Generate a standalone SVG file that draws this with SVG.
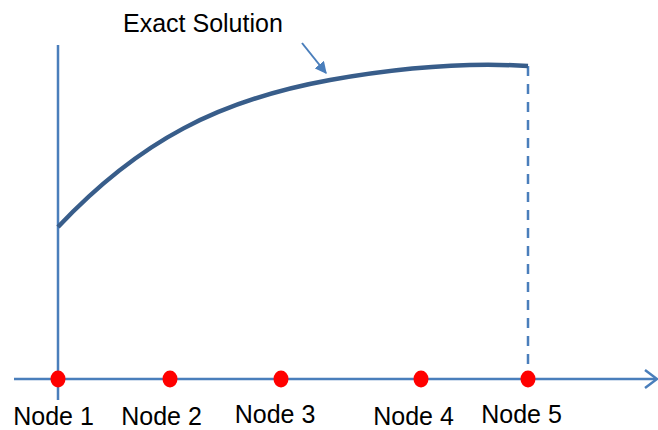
<svg xmlns="http://www.w3.org/2000/svg" width="658" height="430" viewBox="0 0 658 430">
<style>
.axis{stroke:#4a7ebb;stroke-width:2.5;fill:none}
.lbl{font-family:"Liberation Sans",Arial,sans-serif;font-size:25px;fill:#000}
.dot{fill:#ff0000}
</style>
<defs>
<marker id="ah" viewBox="0 0 10 10" refX="9" refY="5" markerWidth="6" markerHeight="6" orient="auto" markerUnits="strokeWidth">
<path d="M0,0 L10,5 L0,10 z" fill="#4a7ebb"/>
</marker>
</defs>
<rect width="658" height="430" fill="#ffffff"/>
<g id="connectors">
<line class="axis" x1="58" y1="45" x2="58" y2="400"/>
<line class="axis" x1="14" y1="379" x2="656" y2="379"/>
<polyline class="axis" points="645,370 657,379 645,388"/>
<line class="axis" x1="528" y1="66" x2="528" y2="379" stroke-dasharray="10,8" stroke-width="2"/>
<path d="M58,227 C140,140 220,100 330,80 C420,64 480,63 528,66" fill="none" stroke="#385d8a" stroke-width="4.5"/>
<line x1="302" y1="43" x2="326" y2="73" stroke="#4a7ebb" stroke-width="2" marker-end="url(#ah)"/>
</g>
<g id="exact-solution"><text class="lbl" x="123" y="32" font-size="26.4">Exact Solution</text></g>
<g id="node1"><ellipse class="dot" cx="58" cy="379" rx="7.5" ry="8.5"/><text class="lbl" x="53.5" y="425" text-anchor="middle">Node 1</text></g>
<g id="node2"><ellipse class="dot" cx="170" cy="379" rx="7.5" ry="8.5"/><text class="lbl" x="161.5" y="425" text-anchor="middle">Node 2</text></g>
<g id="node3"><ellipse class="dot" cx="281" cy="379" rx="7.5" ry="8.5"/><text class="lbl" x="275" y="423" text-anchor="middle">Node 3</text></g>
<g id="node4"><ellipse class="dot" cx="421" cy="379" rx="7.5" ry="8.5"/><text class="lbl" x="413.5" y="425" text-anchor="middle">Node 4</text></g>
<g id="node5"><ellipse class="dot" cx="528" cy="379" rx="7.5" ry="8.5"/><text class="lbl" x="521.5" y="423" text-anchor="middle">Node 5</text></g>
</svg>
